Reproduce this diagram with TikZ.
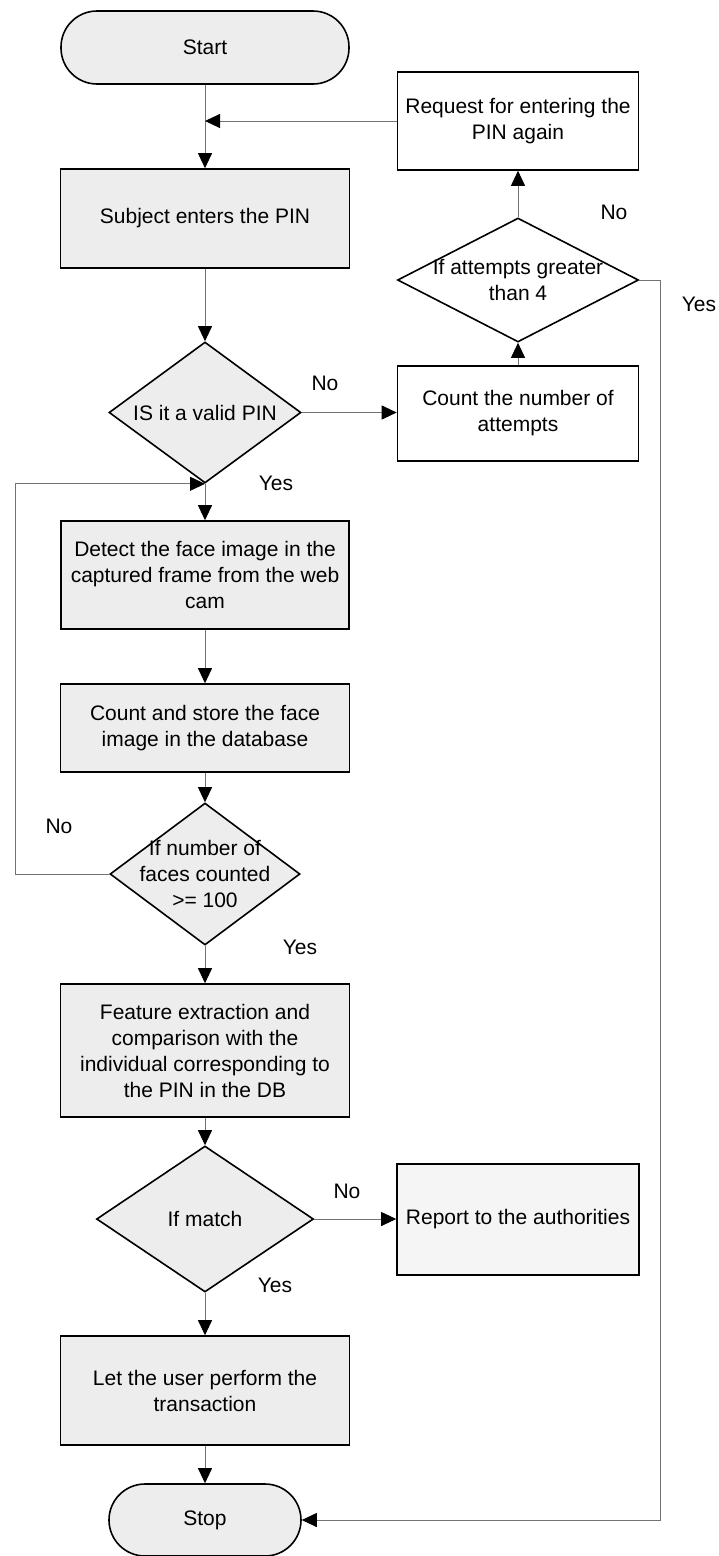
\documentclass[tikz,border=0pt]{standalone}
\usepackage{fontspec}
\setmainfont{Liberation Sans}
\usetikzlibrary{shapes.geometric,arrows.meta}

\begin{document}
\begin{tikzpicture}[x=1pt,y=-1pt,
  every node/.style={font=\fontsize{21}{26}\selectfont},
  proc/.style={draw=black, line width=1.6pt, fill=black!7, rectangle, inner sep=0pt, align=center},
  plainbox/.style={proc, fill=white},
  term/.style={proc, rounded corners=36pt},
  decision/.style={draw=black, line width=1.6pt, fill=black!7, diamond, inner sep=0pt},
  dtext/.style={align=center, inner sep=0pt},
  flow/.style={draw=black!55, line width=0.9pt, -{Triangle[length=15pt,width=14pt,color=black]}},
  lbl/.style={inner sep=0pt}]

\useasboundingbox (0,0) rectangle (719,1556);

% main column
\node[term, minimum width=288pt, minimum height=73pt] (start) at (205,47.5) {Start};
\node[proc, minimum width=289pt, minimum height=99pt] (subject) at (205,218.5) {Subject enters the PIN};
\node[decision, minimum width=192pt, minimum height=141pt] (valid) at (205,412.5) {};
\node[dtext] (validtxt) at (valid) {IS it a valid PIN};
\node[proc, minimum width=288pt, minimum height=108pt] (detect) at (205,575) {Detect the face image in the\\captured frame from the web\\cam};
\node[proc, minimum width=289pt, minimum height=88pt] (store) at (205,728) {Count and store the face\\image in the database};
\node[decision, minimum width=190pt, minimum height=142pt] (faces) at (205,874) {};
\node[dtext] (facestxt) at (faces) {If number of\\faces counted\\>= 100};
\node[proc, minimum width=289pt, minimum height=133pt] (feature) at (205,1050.5) {Feature extraction and\\comparison with the\\individual corresponding to\\the PIN in the DB};
\node[decision, minimum width=217pt, minimum height=146pt] (match) at (205,1219) {};
\node[dtext] (matchtxt) at (match) {If match};
\node[proc, minimum width=289pt, minimum height=109pt] (user) at (205,1390.5) {Let the user perform the\\transaction};
\node[term, minimum width=192pt, minimum height=72pt] (stop) at (205,1520) {Stop};

% right column
\node[plainbox, minimum width=241pt, minimum height=98pt] (request) at (518,121) {Request for entering the\\PIN again};
\node[decision, fill=white, minimum width=241pt, minimum height=124pt] (attempts) at (518,280) {};
\node[dtext] (attemptstxt) at (attempts) {If attempts greater\\than 4};
\node[plainbox, minimum width=241pt, minimum height=95pt] (count) at (518,413.5) {Count the number of\\attempts};
\node[proc, fill=black!4, minimum width=242pt, minimum height=111pt] (report) at (518,1219.5) {Report to the authorities};

% rails for the side connectors
\coordinate (yesrail) at (660,0);
\coordinate (looprail) at (15,0);
\coordinate (join) at (start.south |- request.west);

% connectors
\draw[flow] (start) -- (subject);
\draw[flow] (request.west) -- (join);
\draw[flow] (subject) -- (valid);
\draw[flow] (valid.east) -- (valid.east -| count.west);
\draw[flow] (count) -- (attempts);
\draw[flow] (attempts) -- (request);
\draw[flow] (attempts.east) -- (attempts.east -| yesrail) |- (stop.east);
\draw[flow] (valid) -- (detect);
\draw[flow] (detect) -- (store);
\draw[flow] (store) -- (faces);
\draw[flow] (faces.west) -- (faces.west -| looprail) |- (valid.south);
\draw[flow] (faces) -- (feature);
\draw[flow] (feature) -- (match);
\draw[flow] (match.east) -- (match.east -| report.west);
\draw[flow] (match) -- (user);
\draw[flow] (user) -- (stop);

% branch labels
\node[lbl] (noA) at (614,212) {No};
\node[lbl] (yesA) at (699,304) {Yes};
\node[lbl] (noB) at (325,383) {No};
\node[lbl] (yesB) at (276,483) {Yes};
\node[lbl] (noC) at (59,826) {No};
\node[lbl] (yesC) at (300,947) {Yes};
\node[lbl] (noD) at (347,1191) {No};
\node[lbl] (yesD) at (275,1285) {Yes};
\end{tikzpicture}
\end{document}
